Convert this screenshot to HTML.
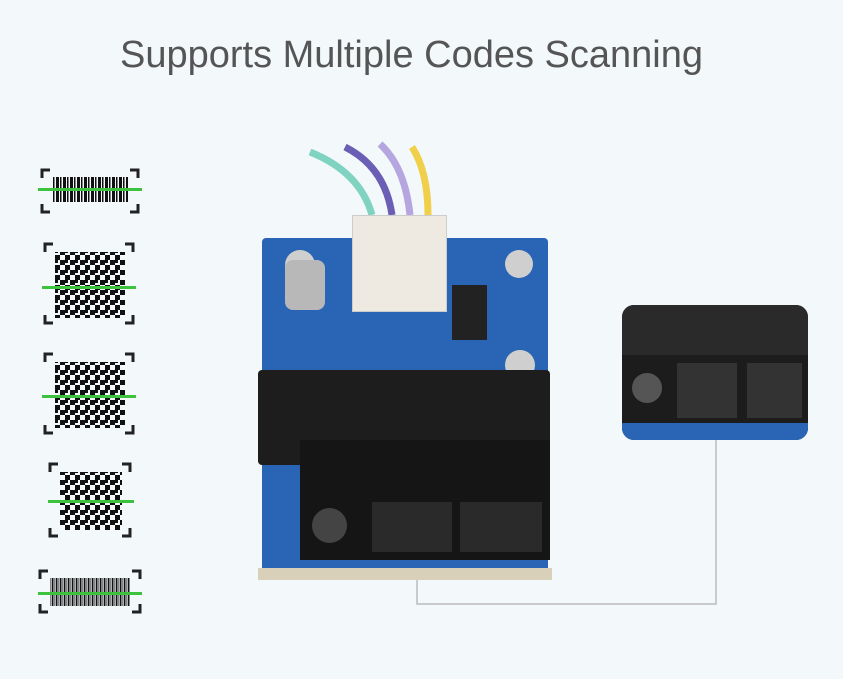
<!DOCTYPE html>
<html><head><meta charset="utf-8"><style>
html,body{margin:0;padding:0}
body{width:843px;height:679px;background:#f3f8fb;position:relative;overflow:hidden;font-family:"Liberation Sans",sans-serif}
.abs{position:absolute}
.title{left:0;width:823px;top:34px;text-align:center;font-size:38px;color:#555}
.green{position:absolute;height:3px;background:#3cc23c}
</style></head><body>
<div class="abs title">Supports Multiple Codes Scanning</div>

<svg class="abs" style="left:0;top:0" width="843" height="679">
 <g stroke="#222" stroke-width="3" fill="none">
  <path d="M42 178v-8h8M130 170h8v8M42 204v8h8M138 204v8h-8"/>
  <path d="M45 252v-8h8M125 244h8v8M45 315v8h8M133 315v8h-8"/>
  <path d="M45 362v-8h8M125 354h8v8M45 425v8h8M133 425v8h-8"/>
  <path d="M50 472v-8h8M122 464h8v8M50 528v8h8M130 528v8h-8"/>
  <path d="M40 579v-8h8M132 571h8v8M40 604v8h8M140 604v8h-8"/>
 </g>
 <g fill="#111">
  <rect x="52" y="177" width="76" height="25" fill="url(#bc)"/>
  <rect x="50" y="578" width="80" height="28" fill="url(#bc2)"/>
  <rect x="55" y="252" width="70" height="66" fill="url(#qr)"/>
  <rect x="55" y="362" width="70" height="66" fill="url(#qr)"/>
  <rect x="60" y="472" width="62" height="58" fill="url(#qr)"/>
 </g>
 <defs>
  <pattern id="bc" width="7" height="25" patternUnits="userSpaceOnUse"><rect width="3" height="25" fill="#111"/><rect x="4" width="1.5" height="25" fill="#111"/></pattern>
  <pattern id="bc2" width="4" height="28" patternUnits="userSpaceOnUse"><rect width="1.5" height="28" fill="#111"/><rect x="2.5" width="0.8" height="28" fill="#111"/></pattern>
  <pattern id="qr" width="10" height="10" patternUnits="userSpaceOnUse"><rect width="5" height="5" fill="#111"/><rect x="5" y="5" width="5" height="5" fill="#111"/><rect x="5" y="0" width="3" height="3" fill="#111"/></pattern>
 </defs>
 <g fill="none" stroke-width="7">
  <path d="M310 152 Q360 172 372 215" stroke="#7fd3c0"/>
  <path d="M345 147 Q385 167 392 215" stroke="#6b5fb5"/>
  <path d="M380 144 Q405 167 410 215" stroke="#b6a6e0"/>
  <path d="M412 147 Q428 172 428 215" stroke="#f0cf4a"/>
 </g>
 <path d="M417 560V604H716V440" stroke="#bbb" stroke-width="1.5" fill="none"/>
</svg>
<div class="green" style="left:38px;top:188px;width:104px"></div>
<div class="green" style="left:42px;top:286px;width:94px"></div>
<div class="green" style="left:42px;top:395px;width:94px"></div>
<div class="green" style="left:48px;top:500px;width:86px"></div>
<div class="green" style="left:38px;top:592px;width:104px"></div>

<div class="abs" style="left:262px;top:238px;width:286px;height:340px;background:#2a64b4;border-radius:4px"></div>
<div class="abs" style="left:258px;top:568px;width:294px;height:12px;background:#d8d0b8"></div>
<div class="abs" style="left:285px;top:250px;width:30px;height:30px;border-radius:50%;background:#cfcfcf"></div>
<div class="abs" style="left:505px;top:250px;width:28px;height:28px;border-radius:50%;background:#cfcfcf"></div>
<div class="abs" style="left:285px;top:260px;width:40px;height:50px;border-radius:8px;background:#b8b8b8"></div>
<div class="abs" style="left:452px;top:285px;width:35px;height:55px;background:#222"></div>
<div class="abs" style="left:352px;top:215px;width:93px;height:95px;background:#eeeae2;border:1px solid #ccc"></div>
<div class="abs" style="left:505px;top:350px;width:30px;height:30px;border-radius:50%;background:#cfcfcf"></div>
<div class="abs" style="left:258px;top:370px;width:292px;height:95px;background:#1d1d1d;border-radius:4px"></div>
<div class="abs" style="left:300px;top:440px;width:250px;height:120px;background:#151515"></div>
<div class="abs" style="left:372px;top:502px;width:80px;height:50px;background:#2a2a2a"></div>
<div class="abs" style="left:460px;top:502px;width:82px;height:50px;background:#2a2a2a"></div>
<div class="abs" style="left:312px;top:508px;width:35px;height:35px;border-radius:50%;background:#444"></div>
<div class="abs" style="left:622px;top:305px;width:186px;height:135px;background:#1c1c1c;border-radius:12px;overflow:hidden">
 <div style="position:absolute;left:0;top:0;width:186px;height:50px;background:#2a2a2a"></div>
 <div style="position:absolute;left:0;top:118px;width:186px;height:17px;background:#2a64b4"></div>
 <div style="position:absolute;left:55px;top:58px;width:60px;height:55px;background:#333"></div>
 <div style="position:absolute;left:125px;top:58px;width:55px;height:55px;background:#333"></div>
 <div style="position:absolute;left:10px;top:68px;width:30px;height:30px;border-radius:50%;background:#555"></div>
</div>
</body></html>
